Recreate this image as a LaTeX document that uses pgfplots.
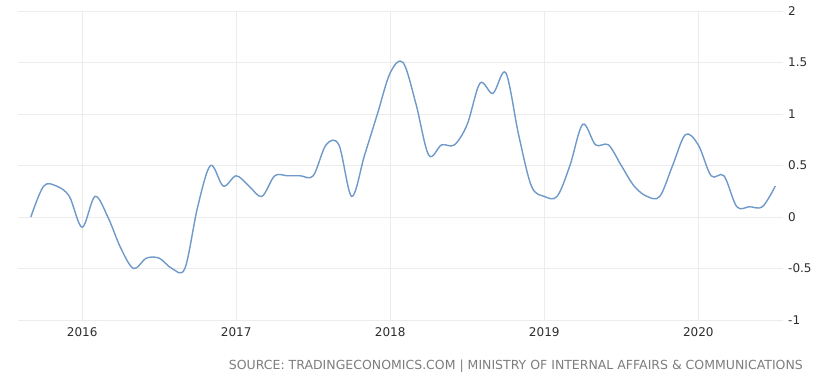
\documentclass[border=0pt]{standalone}
\usepackage{pgfplots}
\pgfplotsset{compat=1.18}
\usepackage{fontspec}
\setmainfont{DejaVu Sans}
\definecolor{linec}{RGB}{110,153,200}
\definecolor{gridc}{RGB}{236,236,236}
\definecolor{tickc}{RGB}{45,45,45}
\definecolor{srcc}{RGB}{125,125,125}
\begin{document}
\begin{tikzpicture}[x=1pt,y=1pt]
\useasboundingbox (-18,-62) rectangle (812,320);
\begin{axis}[at={(0,0)}, anchor=south west, scale only axis,
  width=765pt, height=309pt,
  xmin=-5, xmax=54.6, ymin=-1, ymax=2,
  xtick={0,12,24,36,48}, xticklabels={2016,2017,2018,2019,2020},
  ytick={-1,-0.5,0,0.5,1,1.5,2},
  yticklabel pos=right,
  grid=major, major grid style={draw=gridc, line width=0.8pt},
  axis line style={draw=none}, tick style={draw=none},
  ticklabel style={font=\fontsize{12}{14}\selectfont, text=tickc},
  yticklabel style={anchor=west, inner sep=0pt, xshift=5pt},
  xticklabel style={anchor=center, inner sep=0pt, yshift=-12.5pt},
  /pgf/number format/assume math mode=true,
  clip=false]
\addplot[draw=linec, line width=1.4pt, smooth, tension=0.55] coordinates {
(-4,0.0) (-3,0.3) (-2,0.3) (-1,0.2) (0,-0.1) (1,0.2) (2,0.0) (3,-0.3)
(4,-0.5) (5,-0.4) (6,-0.4) (7,-0.5) (8,-0.5) (9,0.1) (10,0.5) (11,0.3)
(12,0.4) (13,0.3) (14,0.2) (15,0.4) (16,0.4) (17,0.4) (18,0.4) (19,0.7)
(20,0.7) (21,0.2) (22,0.6) (23,1.0) (24,1.4) (25,1.5) (26,1.1) (27,0.6)
(28,0.7) (29,0.7) (30,0.9) (31,1.3) (32,1.2) (33,1.4) (34,0.8) (35,0.3)
(36,0.2) (37,0.2) (38,0.5) (39,0.9) (40,0.7) (41,0.7) (42,0.5) (43,0.3)
(44,0.2) (45,0.2) (46,0.5) (47,0.8) (48,0.7) (49,0.4) (50,0.4) (51,0.1)
(52,0.1) (53,0.1) (54,0.3)};
\end{axis}
\node[anchor=east, inner sep=0pt, font=\fontsize{12.5}{14}\selectfont, text=srcc] at (785,-46.5) {SOURCE: TRADINGECONOMICS.COM | MINISTRY OF INTERNAL AFFAIRS \& COMMUNICATIONS};
\end{tikzpicture}
\end{document}
